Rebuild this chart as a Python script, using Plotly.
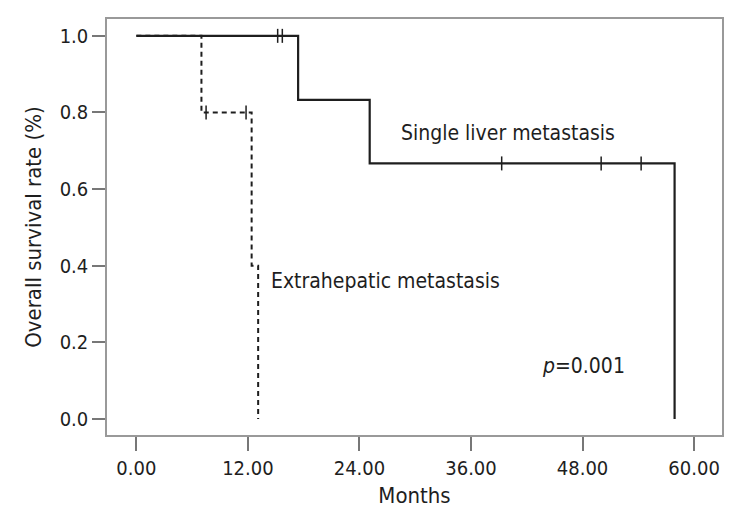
import plotly.graph_objects as go

# ---- data ----
single_times = [0, 17.4, 25.1, 57.9]
single_surv = [1.0, 0.833, 0.667, 0.0]
single_cens_t = [15.2, 15.7, 39.3, 50.0, 54.3]
single_cens_s = [1.0, 1.0, 0.667, 0.667, 0.667]

extra_times = [0, 7.0, 12.4, 13.1]
extra_surv = [1.0, 0.8, 0.4, 0.0]
extra_cens_t = [7.5, 11.8]
extra_cens_s = [0.8, 0.8]

x_ticks = [0, 12, 24, 36, 48, 60]
y_ticks = [0.0, 0.2, 0.4, 0.6, 0.8, 1.0]

FONT = "DejaVu Sans Condensed, Liberation Sans Narrow, sans-serif"
INK = "#1e1e1e"

fig = go.Figure()

fig.add_trace(go.Scatter(
    x=extra_times, y=extra_surv, mode="lines", line_shape="hv",
    line=dict(color=INK, width=2, dash="5px,4px"), showlegend=False))
fig.add_trace(go.Scatter(
    x=extra_cens_t, y=extra_cens_s, mode="markers",
    marker=dict(symbol="line-ns-open", size=10, color=INK, line=dict(color=INK, width=1.5)),
    showlegend=False))

fig.add_trace(go.Scatter(
    x=single_times, y=single_surv, mode="lines", line_shape="hv",
    line=dict(color=INK, width=2.2), showlegend=False))
fig.add_trace(go.Scatter(
    x=single_cens_t, y=single_cens_s, mode="markers",
    marker=dict(symbol="line-ns-open", size=10, color=INK, line=dict(color=INK, width=1.5)),
    showlegend=False))

annot_font = dict(family=FONT, size=21, color=INK)
fig.add_annotation(x=28.3, y=0.747, text="Single liver metastasis", showarrow=False,
                   xanchor="left", yanchor="middle", font=annot_font)
fig.add_annotation(x=14.25, y=0.36, text="Extrahepatic metastasis", showarrow=False,
                   xanchor="left", yanchor="middle", font=annot_font)
fig.add_annotation(x=43.4, y=0.138, text="<i>p</i>=0.001", showarrow=False,
                   xanchor="left", yanchor="middle", font=annot_font)

axis_common = dict(showgrid=False, zeroline=False, showline=True, mirror=True,
                   linecolor="#999999", linewidth=1.5, ticks="outside",
                   tickcolor="#777777", tickwidth=1.5,
                   tickfont=dict(family=FONT, size=20, color=INK))

fig.update_xaxes(range=[-3.16, 63.0], tickvals=x_ticks, tickformat=".2f", ticklen=14,
                 title=dict(text="Months", font=dict(family=FONT, size=22, color=INK), standoff=9),
                 **axis_common)
fig.update_yaxes(range=[-0.042, 1.044], tickvals=y_ticks, tickformat=".1f", ticklen=13,
                 title=dict(text="Overall survival rate (%)", font=dict(family=FONT, size=22, color=INK), standoff=12),
                 **axis_common)

# page body has an 8px margin: figure placed at (8,8) in the 739x524 window
fig.update_layout(width=723, height=508, margin=dict(l=99, r=9, t=11, b=81, autoexpand=False),
                  plot_bgcolor="white", paper_bgcolor="white", font=dict(family=FONT, color=INK))

fig.write_html("out.html")
